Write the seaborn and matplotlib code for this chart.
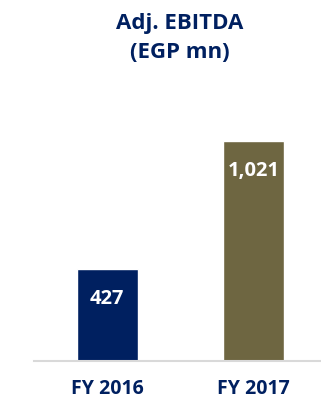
import matplotlib
matplotlib.use("Agg")
import matplotlib.pyplot as plt
import seaborn as sns
import pandas as pd

# Adjusted EBITDA by fiscal year (EGP mn)
years = ["FY 2016", "FY 2017"]
ebitda = [427, 1021]
value_labels = ["427", "1,021"]
bar_colors = ["#002060", "#6E6641"]
text_color = "#002060"

sns.set_theme(style="white")
plt.rcParams["font.family"] = ["Open Sans", "DejaVu Sans"]

df = pd.DataFrame({"year": years, "ebitda": ebitda})

fig = plt.figure(figsize=(3.21, 4.0), dpi=100)
ax = fig.add_axes([34.3 / 321, (400 - 360.5) / 400, 1 - 34.3 / 321, 0.75])

sns.barplot(data=df, x="year", y="ebitda", hue="year", palette=bar_colors,
            width=0.416, saturation=1, legend=False, ax=ax)

ax.set_xlim(-0.5, 1.464)
ax.set_ylim(0, 1394)

# value labels just inside the top of each bar
for i, (v, lab) in enumerate(zip(ebitda, value_labels)):
    ax.annotate(lab, xy=(i, v), xytext=(0, -25.5), textcoords="offset points",
                ha="center", va="baseline", color="white",
                fontsize=14.5, fontweight="bold")

for side in ["left", "right", "top"]:
    ax.spines[side].set_visible(False)
ax.spines["bottom"].set_color("#D9D9D9")
ax.spines["bottom"].set_linewidth(1.5)

ax.set_yticks([])
ax.set_xlabel("")
ax.set_ylabel("")
ax.tick_params(axis="x", length=0, pad=13.2)
for t in ax.get_xticklabels():
    t.set_fontsize(14)
    t.set_fontweight("bold")
    t.set_color(text_color)

# two-line chart title
fig.text(180 / 321, 1 - 29 / 400, "Adj. EBITDA", ha="center", va="baseline",
         fontsize=16, fontweight="bold", color=text_color)
fig.text(180 / 321, 1 - 58 / 400, "(EGP mn)", ha="center", va="baseline",
         fontsize=16, fontweight="bold", color=text_color)

fig.savefig("out.png", dpi=100)
